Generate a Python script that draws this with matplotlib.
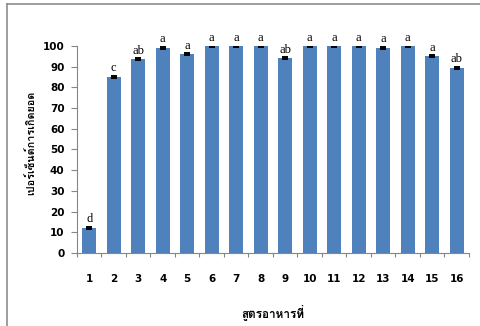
import matplotlib
matplotlib.use("Agg")
import matplotlib.pyplot as plt
from matplotlib import font_manager
from matplotlib.lines import Line2D

categories = [str(i) for i in range(1, 17)]
values = [12, 85, 93.5, 99, 96, 100, 100, 100, 94, 100, 100, 100, 99, 100, 95, 89.5]
errors = [0.5, 0.5, 0.5, 0.5, 0.5, 0.3, 0.3, 0.3, 0.5, 0.3, 0.3, 0.3, 0.5, 0.3, 0.5, 0.5]
letters = ["d", "c", "ab", "a", "a", "a", "a", "a", "ab", "a", "a", "a", "a", "a", "a", "ab"]
yticks = [0, 10, 20, 30, 40, 50, 60, 70, 80, 90, 100]
xlabel = "สูตรอาหารที่"
ylabel = "เปอร์เซ็นต์การเกิดยอด"

# find a font with Thai glyphs
thai_family = None
try:
    from fontTools.ttLib import TTFont
    for fe in font_manager.fontManager.ttflist:
        try:
            f = TTFont(fe.fname, fontNumber=0, lazy=True)
            cmap = f.getBestCmap()
            if cmap and ord("ส") in cmap and ord("ู") in cmap:
                thai_family = fe.name
                break
        except Exception:
            pass
except Exception:
    pass
thai_fams = ([thai_family] if thai_family else []) + ["DejaVu Sans"]

fig = plt.figure(figsize=(4.81, 3.26), dpi=100)
ax = fig.add_axes([0.160, 0.224, 0.815, 0.635])

x = list(range(1, 17))
ax.bar(x, values, width=0.57, color="#4F81BD", zorder=2)
ax.errorbar(x, values, yerr=errors, fmt="none", ecolor="black", elinewidth=0.8,
            capsize=2.5, capthick=1.4, zorder=3)
for xi, v, e, t in zip(x, values, errors, letters):
    ax.text(xi, v + e + 0.8, t, ha="center", va="bottom", fontsize=9,
            family="Liberation Serif", zorder=4)

ax.set_xlim(0.5, 16.5)
ax.set_ylim(0, 100)
ax.set_yticks(yticks)
ax.set_yticklabels([str(t) for t in yticks], fontsize=7.5, fontweight="bold")
ax.set_xticks(x)
ax.set_xticklabels(categories, fontsize=7.5, fontweight="bold")
ax.tick_params(axis="x", length=0, pad=15)
ax.tick_params(axis="y", length=4, color="#868686", width=0.8, pad=5)
# minor ticks on x at category boundaries
ax.set_xticks([i + 0.5 for i in range(0, 17)], minor=True)
ax.tick_params(axis="x", which="minor", length=3, color="#868686", width=0.8)
for s in ["top", "right"]:
    ax.spines[s].set_visible(False)
for s in ["left", "bottom"]:
    ax.spines[s].set_color("#868686")
    ax.spines[s].set_linewidth(0.8)

ax.set_xlabel(xlabel, family=thai_fams, fontsize=8.5, fontweight="bold")
ax.set_ylabel(ylabel, family=thai_fams, fontsize=7.8, fontweight="bold")
ax.xaxis.set_label_coords(0.5, -0.285)
ax.yaxis.set_label_coords(-0.117, 0.531)
ax.xaxis.label.set_va("center")
ax.yaxis.label.set_va("center")

# outer frame (left and top)
fig.add_artist(Line2D([7.5 / 481, 7.5 / 481], [0, 1 - 4 / 326], transform=fig.transFigure,
                      color="#8c8c8c", linewidth=1.2))
fig.add_artist(Line2D([7.5 / 481, 1], [1 - 4 / 326, 1 - 4 / 326], transform=fig.transFigure,
                      color="#8c8c8c", linewidth=1.2))

fig.savefig("out.png", dpi=100)
